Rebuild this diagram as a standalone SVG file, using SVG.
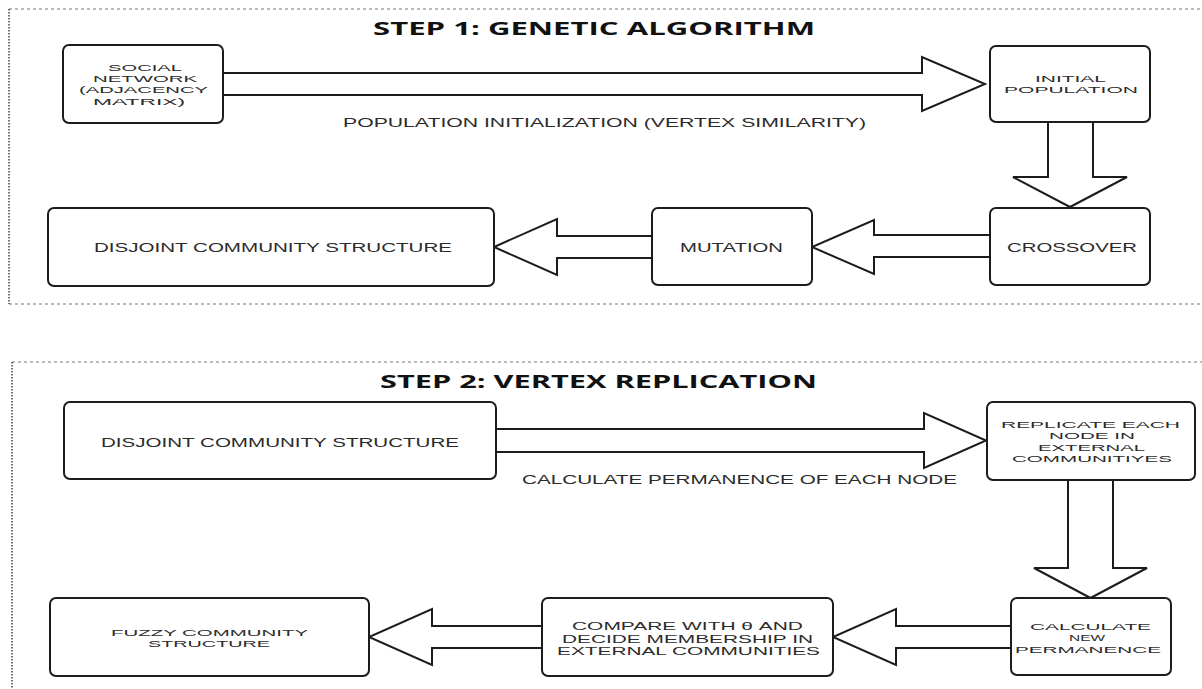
<svg xmlns="http://www.w3.org/2000/svg" width="1202" height="689" viewBox="0 0 1202 689">
  <style>
    .frame-h { fill: none; stroke: #777; stroke-width: 1.2; stroke-dasharray: 3 3; }
    .frame-v { fill: none; stroke: #444; stroke-width: 1.5; stroke-dasharray: 1.5 1.5; }
    .box { fill: #fff; stroke: #1c1c1c; stroke-width: 2; }
    .arrow { fill: #fff; stroke: #1c1c1c; stroke-width: 2; stroke-linejoin: miter; }
    .title { font-family: "Open Sans", "DejaVu Sans", sans-serif; font-weight: 700; font-size: 18px; fill: #111; text-anchor: middle; }
    .lbl { font-family: "Liberation Sans", Arial, sans-serif; fill: #2b2b2b; text-anchor: middle; }
    .s10 { font-size: 9.8px; }
    .s11 { font-size: 11px; }
    .s12 { font-size: 12px; }
    .s13 { font-size: 13px; }
  </style>

  <!-- stage frames -->
  <g id="frames">
    <line class="frame-h" x1="9" y1="9" x2="1202" y2="9"/>
    <line class="frame-v" x1="9" y1="9" x2="9" y2="304"/>
    <line class="frame-h" x1="9" y1="304" x2="1202" y2="304"/>
    <line class="frame-h" x1="12" y1="362" x2="1202" y2="362"/>
    <line class="frame-v" x1="12" y1="362" x2="12" y2="689"/>
  </g>

  <g id="titles">
    <text class="title" x="594" y="35" textLength="442" lengthAdjust="spacingAndGlyphs">STEP 1: GENETIC ALGORITHM</text>
    <text class="title" x="598.5" y="388" textLength="437" lengthAdjust="spacingAndGlyphs">STEP 2: VERTEX REPLICATION</text>
  </g>

  <!-- block arrows -->
  <g id="connectors">
    <path class="arrow" d="M223,73 H922 V57 L985,84 L922,111 V95 H223 Z"/>
    <path class="arrow" d="M1048,122 V177 H1013 L1070,207 L1127,177 H1093 V122 Z"/>
    <path class="arrow" d="M990,235 H874 V220 L812,247 L874,274 V257 H990 Z"/>
    <path class="arrow" d="M652,236 H557 V219 L494,247 L557,275 V258 H652 Z"/>
    <path class="arrow" d="M496,429 H924 V413 L986,440.5 L924,468 V452 H496 Z"/>
    <path class="arrow" d="M1068,480 V568 H1034 L1090.5,598 L1147,568 H1113 V480 Z"/>
    <path class="arrow" d="M1011,626 H896 V609 L833,637 L896,665 V648 H1011 Z"/>
    <path class="arrow" d="M542,626 H432 V609 L369,637 L432,665 V648 H542 Z"/>
    <text class="lbl s13" x="604.5" y="126.5" textLength="523" lengthAdjust="spacingAndGlyphs">POPULATION INITIALIZATION (VERTEX SIMILARITY)</text>
    <text class="lbl s13" x="739.5" y="484" textLength="435" lengthAdjust="spacingAndGlyphs">CALCULATE PERMANENCE OF EACH NODE</text>
  </g>

  <!-- step 1 nodes -->
  <g id="social-network">
    <rect class="box" x="63" y="45" width="160" height="78" rx="6"/>
    <text class="lbl s10" x="145" y="70.5" textLength="74" lengthAdjust="spacingAndGlyphs">SOCIAL</text>
    <text class="lbl s10" x="145" y="81.5" textLength="104" lengthAdjust="spacingAndGlyphs">NETWORK</text>
    <text class="lbl s10" x="143.5" y="93" textLength="129" lengthAdjust="spacingAndGlyphs">(ADJACENCY</text>
    <text class="lbl s10" x="139" y="104.5" textLength="92" lengthAdjust="spacingAndGlyphs">MATRIX)</text>
  </g>

  <g id="initial-population">
    <rect class="box" x="990" y="46" width="160" height="76" rx="6"/>
    <text class="lbl s10" x="1070.5" y="81.5" textLength="71" lengthAdjust="spacingAndGlyphs">INITIAL</text>
    <text class="lbl s10" x="1071" y="93" textLength="134" lengthAdjust="spacingAndGlyphs">POPULATION</text>
  </g>

  <g id="crossover">
    <rect class="box" x="990" y="208" width="160" height="77" rx="6"/>
    <text class="lbl s13" x="1072" y="251.5" textLength="130" lengthAdjust="spacingAndGlyphs">CROSSOVER</text>
  </g>

  <g id="mutation">
    <rect class="box" x="652" y="208" width="160" height="77" rx="6"/>
    <text class="lbl s13" x="731.5" y="251.5" textLength="103" lengthAdjust="spacingAndGlyphs">MUTATION</text>
  </g>

  <g id="disjoint-structure-1">
    <rect class="box" x="48" y="208" width="446" height="78" rx="6"/>
    <text class="lbl s12" x="273" y="251.5" textLength="358" lengthAdjust="spacingAndGlyphs">DISJOINT COMMUNITY STRUCTURE</text>
  </g>

  <!-- step 2 nodes -->
  <g id="disjoint-structure-2">
    <rect class="box" x="64" y="402" width="432" height="77" rx="6"/>
    <text class="lbl s12" x="280" y="446.5" textLength="358" lengthAdjust="spacingAndGlyphs">DISJOINT COMMUNITY STRUCTURE</text>
  </g>

  <g id="replicate">
    <rect class="box" x="987" y="402" width="208" height="78" rx="6"/>
    <text class="lbl s10" x="1090.5" y="427.5" textLength="179" lengthAdjust="spacingAndGlyphs">REPLICATE EACH</text>
    <text class="lbl s10" x="1092" y="439" textLength="86" lengthAdjust="spacingAndGlyphs">NODE IN</text>
    <text class="lbl s10" x="1091.5" y="450.5" textLength="107" lengthAdjust="spacingAndGlyphs">EXTERNAL</text>
    <text class="lbl s10" x="1092" y="462" textLength="160" lengthAdjust="spacingAndGlyphs">COMMUNITIYES</text>
  </g>

  <g id="calculate-permanence">
    <rect class="box" x="1011" y="598" width="160" height="77" rx="6"/>
    <text class="lbl s10" x="1090.5" y="629.5" textLength="121" lengthAdjust="spacingAndGlyphs">CALCULATE</text>
    <text class="lbl s10" x="1087" y="641" textLength="36" lengthAdjust="spacingAndGlyphs">NEW</text>
    <text class="lbl s10" x="1088" y="652.5" textLength="146" lengthAdjust="spacingAndGlyphs">PERMANENCE</text>
  </g>

  <g id="compare-theta">
    <rect class="box" x="542" y="598" width="291" height="78" rx="6"/>
    <text class="lbl s11" x="687.5" y="630" textLength="231" lengthAdjust="spacingAndGlyphs">COMPARE WITH θ AND</text>
    <text class="lbl s11" x="687.5" y="642.5" textLength="251" lengthAdjust="spacingAndGlyphs">DECIDE MEMBERSHIP IN</text>
    <text class="lbl s11" x="688.5" y="655" textLength="263" lengthAdjust="spacingAndGlyphs">EXTERNAL COMMUNITIES</text>
  </g>

  <g id="fuzzy-structure">
    <rect class="box" x="50" y="598" width="319" height="78" rx="6"/>
    <text class="lbl s10" x="209.5" y="635.5" textLength="197" lengthAdjust="spacingAndGlyphs">FUZZY COMMUNITY</text>
    <text class="lbl s10" x="209" y="647" textLength="122" lengthAdjust="spacingAndGlyphs">STRUCTURE</text>
  </g>
</svg>
